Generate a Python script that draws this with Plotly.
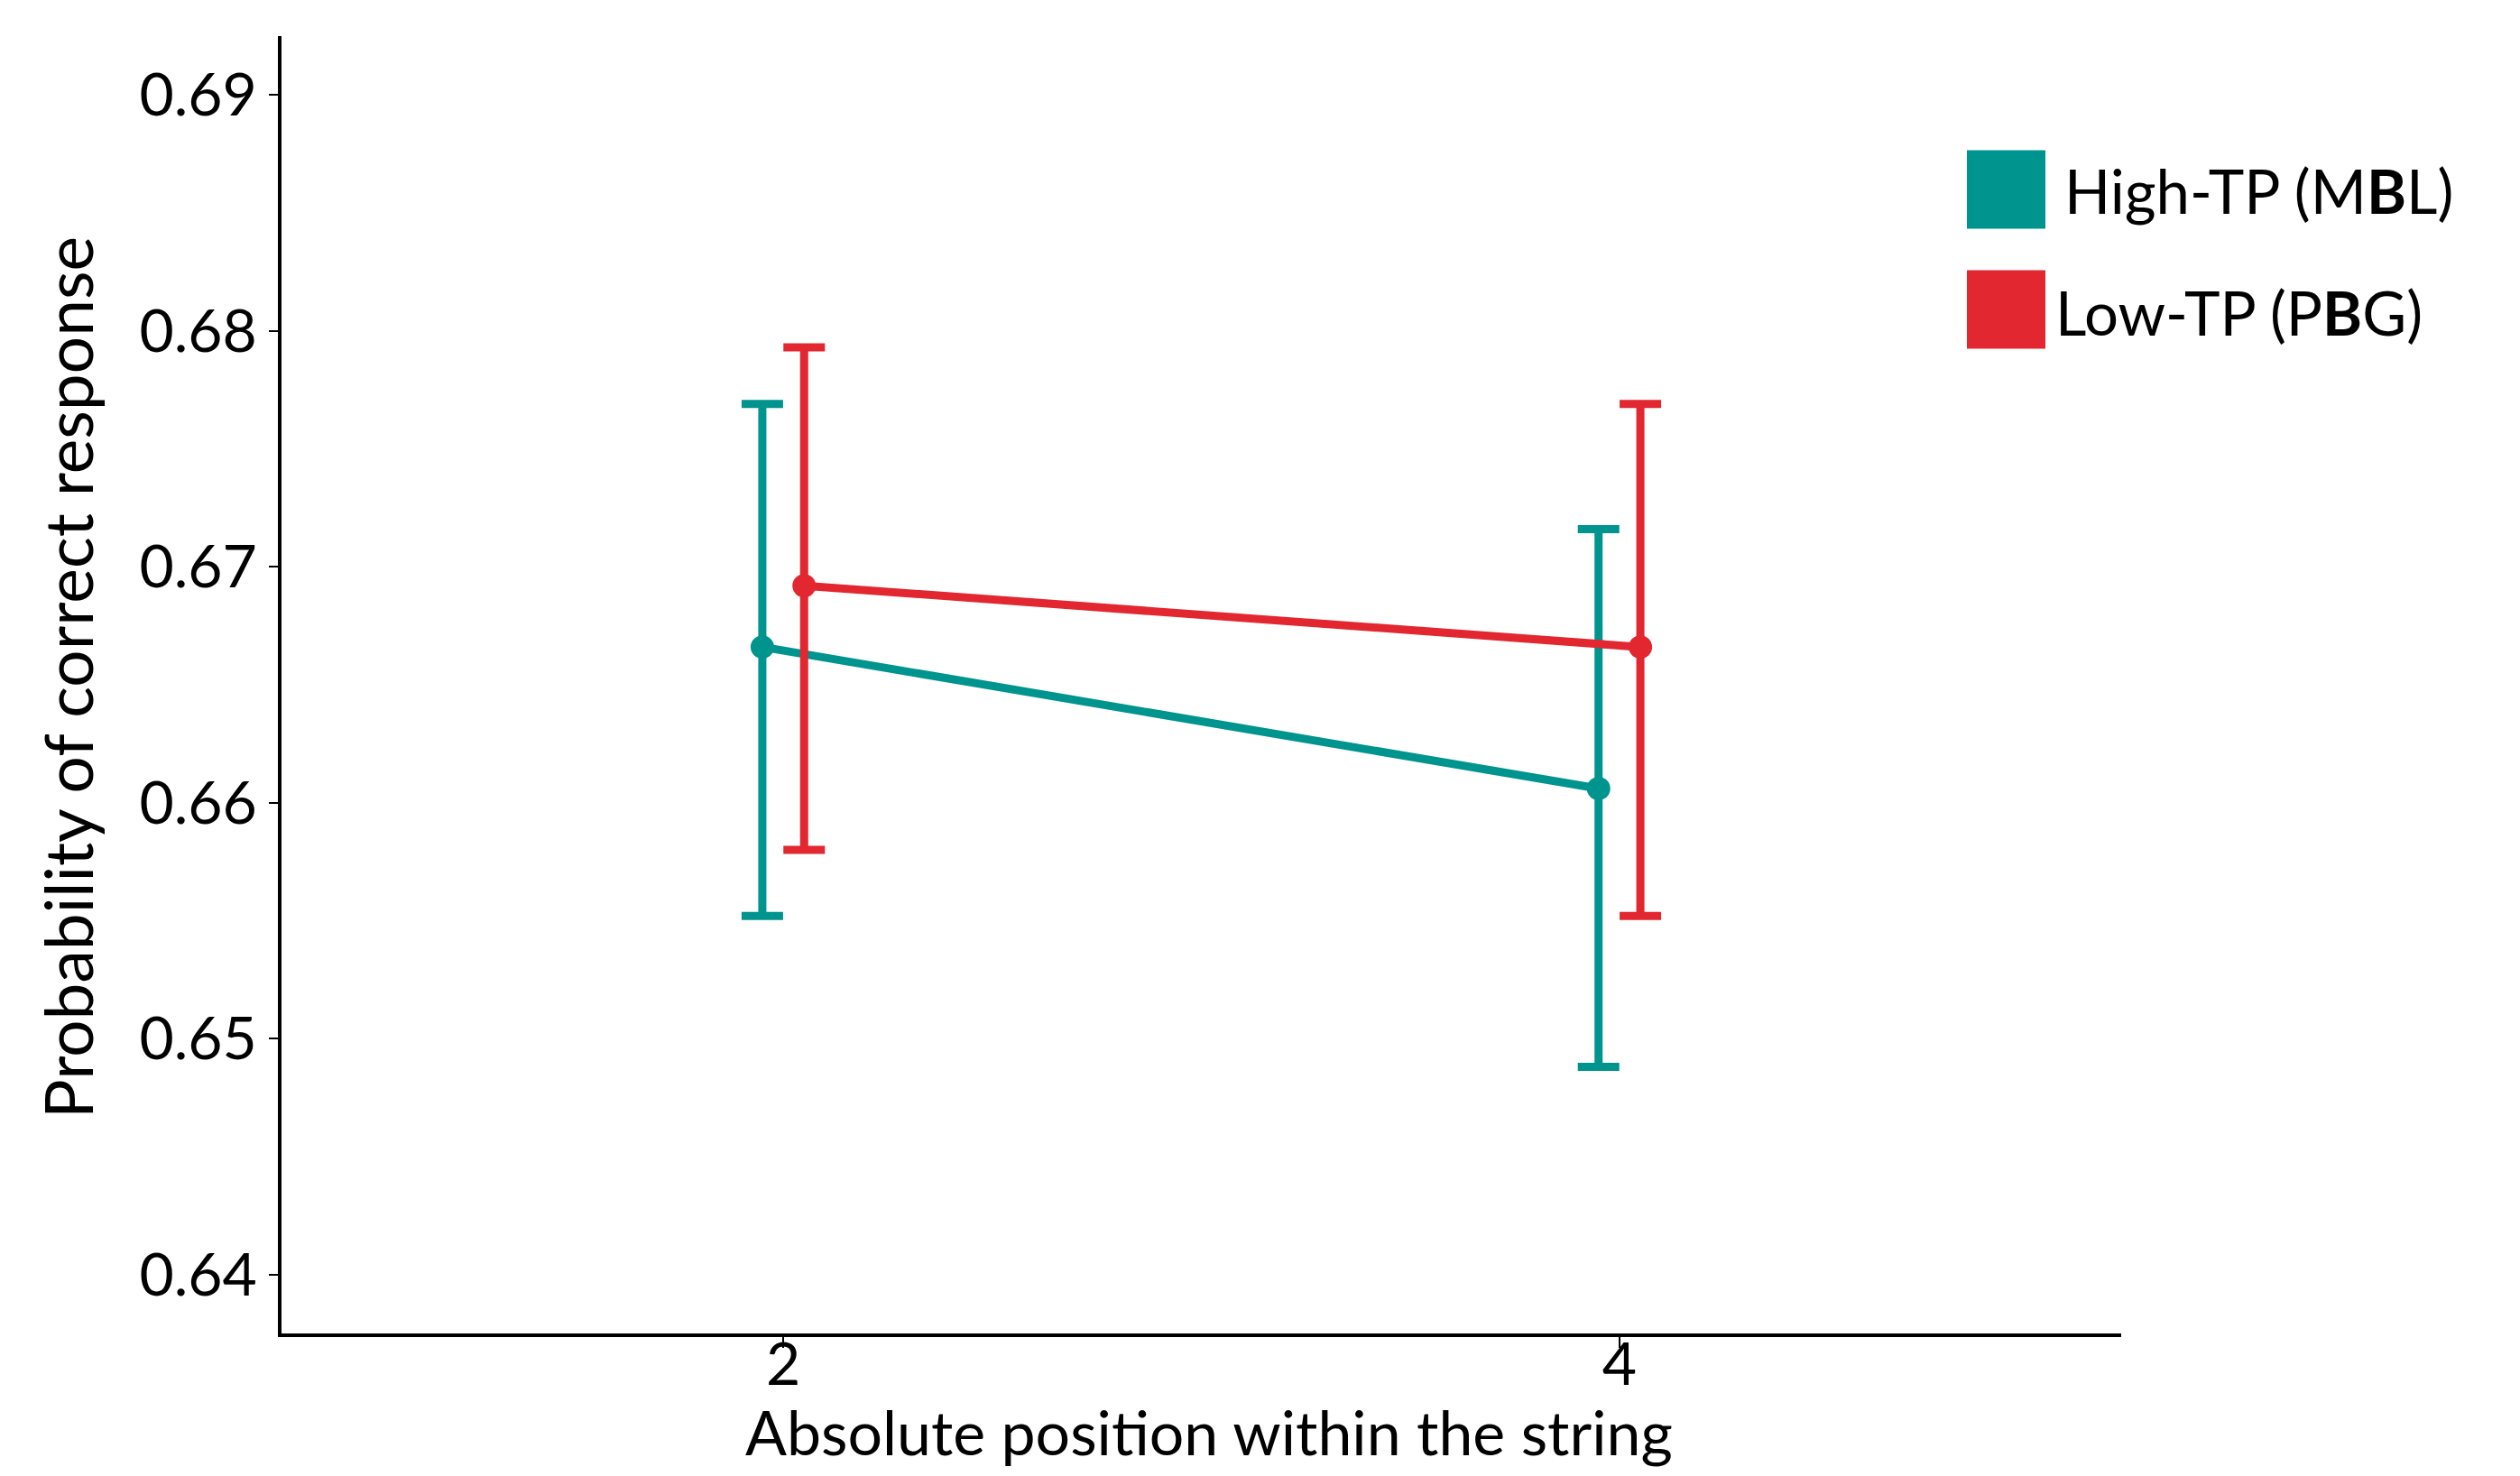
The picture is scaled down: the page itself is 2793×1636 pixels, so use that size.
import plotly.graph_objects as go

positions = [2, 4]
series_names = ["High-TP (M<b>B</b>L)", "Low-TP (P<b>B</b>G)"]
high_mean = [0.6666, 0.6606]
high_upper = [0.6769, 0.6716]
high_lower = [0.6552, 0.6488]
low_mean = [0.6692, 0.6666]
low_upper = [0.6793, 0.6769]
low_lower = [0.6580, 0.6552]
y_ticks = [0.64, 0.65, 0.66, 0.67, 0.68, 0.69]
x_title = "Absolute position within the string"
y_title = "Probability of correct response"

TEAL = "#00948F"
RED = "#E22730"
FONT = "Lato"
dodge = 0.05

# the page body has an 8px margin; work in page pixels and subtract it
OFF = 8
W, H = 2793 - 2 * OFF, 1636 - 2 * OFF
PL, PR, PT, PB = 312, 2351, 40, 1478          # plot area in page pixels
L, T = PL - OFF, PT - OFF
R, B = W - (PR - OFF), H - (PB - OFF)
PW, PH = W - L - R, H - T - B


def px(xp):
    return (xp - OFF - L) / PW


def py(yp):
    return (H - B - (yp - OFF)) / PH


fig = go.Figure()
for means, ups, lows, col, off in [
    (high_mean, high_upper, high_lower, TEAL, -dodge),
    (low_mean, low_upper, low_lower, RED, dodge),
]:
    xs = [p + off for p in positions]
    fig.add_trace(go.Scatter(
        x=xs, y=means, mode="lines+markers",
        line=dict(color=col, width=9),
        marker=dict(color=col, size=26),
        error_y=dict(type="data", symmetric=False,
                     array=[u - m for u, m in zip(ups, means)],
                     arrayminus=[m - l for m, l in zip(means, lows)],
                     color=col, thickness=9, width=23),
        showlegend=False,
    ))

fig.update_layout(
    width=W, height=H,
    paper_bgcolor="white", plot_bgcolor="white",
    margin=dict(l=L, r=R, t=T, b=B),
    font=dict(family=FONT, color="black", size=62),
    xaxis=dict(range=[0.8, 5.2], tickvals=positions, ticktext=[str(p) for p in positions],
               showline=True, linecolor="black", linewidth=4, showgrid=False, zeroline=False,
               ticks="outside", ticklen=12, tickwidth=2, tickcolor="black",
               tickfont=dict(size=66, family=FONT), ticklabelstandoff=-38),
    yaxis=dict(range=[0.6375, 0.6925], tickvals=y_ticks, ticktext=[f"{v:.2f}" for v in y_ticks],
               showline=True, linecolor="black", linewidth=4, showgrid=False, zeroline=False,
               ticks="outside", ticklen=10, tickwidth=2, tickcolor="black",
               tickfont=dict(size=66, family=FONT)),
)

# axis titles
fig.add_annotation(xref="paper", yref="paper", x=px(1340), y=py(1586),
                   text=x_title, showarrow=False, xanchor="center", yanchor="middle",
                   font=dict(size=68, family=FONT, color="black"))
fig.add_annotation(xref="paper", yref="paper", x=px(75), y=py(751),
                   text=y_title, showarrow=False, textangle=-90, xanchor="center", yanchor="middle",
                   font=dict(size=73, family=FONT, color="black"))

# manual legend
legend_cols = [TEAL, RED]
legend_sq_y = [210, 343]
legend_txt_y = [211, 346]
legend_txt_x = [2286, 2276]
for name, col, yc, ty, tx in zip(series_names, legend_cols, legend_sq_y, legend_txt_y, legend_txt_x):
    fig.add_shape(type="rect", xref="paper", yref="paper",
                  x0=px(2180), x1=px(2267),
                  y0=py(yc + 43.5), y1=py(yc - 43.5),
                  fillcolor=col, line=dict(width=0))
    fig.add_annotation(xref="paper", yref="paper",
                       x=px(tx), y=py(ty),
                       text=name, showarrow=False, xanchor="left", yanchor="middle",
                       font=dict(size=67, family=FONT, color="black"))

fig.write_html("out.html")
